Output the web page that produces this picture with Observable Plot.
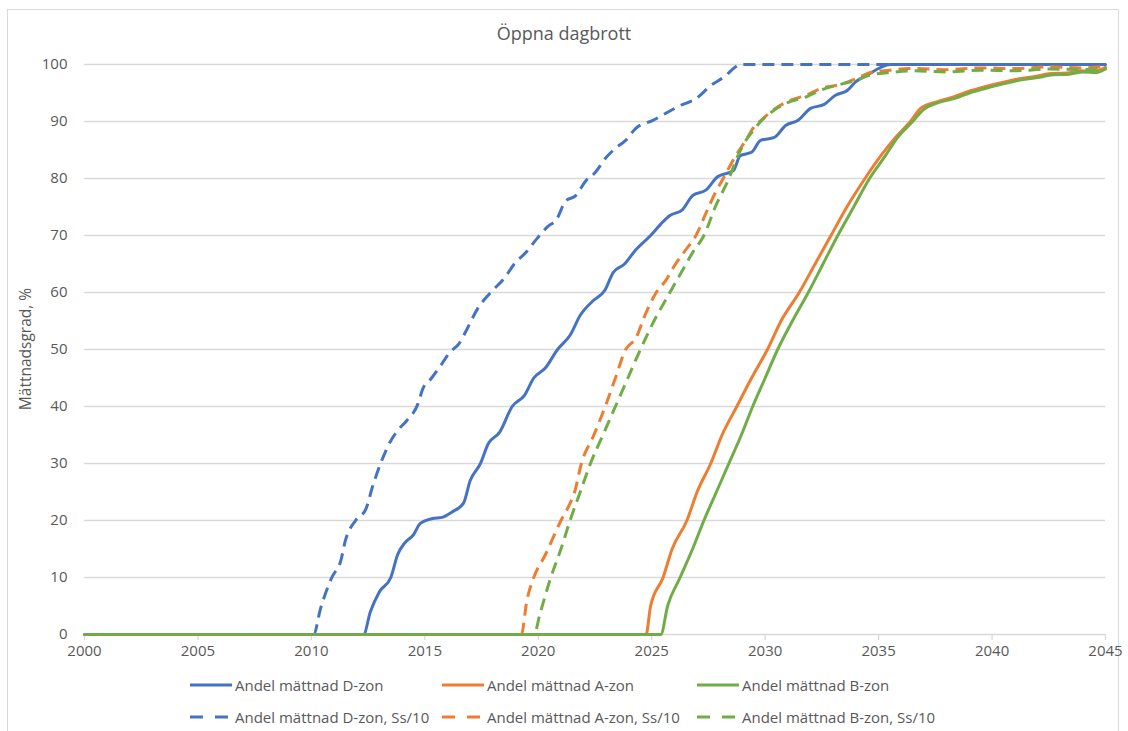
<!DOCTYPE html>
<html>
<head>
<meta charset="utf-8">
<script src="https://cdn.jsdelivr.net/npm/d3@7"></script>
<script src="https://cdn.jsdelivr.net/npm/@observablehq/plot@0.6"></script>
<style>
  html, body { margin: 0; padding: 0; background: #fff; }
  body { width: 1128px; height: 731px; position: relative; overflow: hidden; font-family: "Open Sans", "Liberation Sans", sans-serif; color: #595959; }
  #frame { position: absolute; left: 7px; top: 9px; width: 1112px; height: 740px; border: 1px solid #d9d9d9; box-sizing: border-box; }
  #title { position: absolute; left: 0; width: 1128px; top: 21px; text-align: center; font-size: 18px; color: #595959; }
  #chart { position: absolute; left: 0; top: 50px; }
  .leg { position: absolute; font-size: 15px; color: #595959; white-space: nowrap; display: flex; align-items: center; }
  .leg svg { margin-right: 2px; }
</style>
</head>
<body>
<div id="frame"></div>
<div id="title">Öppna dagbrott</div>
<div id="chart"></div>
<div id="legend"></div>
<script>
// ---- Data ----
const xTicks = [2000, 2005, 2010, 2015, 2020, 2025, 2030, 2035, 2040, 2045];
const yTicks = [0, 10, 20, 30, 40, 50, 60, 70, 80, 90, 100];

const seriesNames = [
  "Andel mättnad D-zon", "Andel mättnad A-zon", "Andel mättnad B-zon",
  "Andel mättnad D-zon, Ss/10", "Andel mättnad A-zon, Ss/10", "Andel mättnad B-zon, Ss/10"
];
const seriesColors = ["#4472C4", "#ED7D31", "#70AD47", "#4472C4", "#ED7D31", "#70AD47"];
const seriesDashed = [false, false, false, true, true, true];

const dYears = [2000, 2012.3, 2012.6, 2013.0, 2013.5, 2013.8, 2014.1, 2014.5, 2014.8, 2015.3, 2015.8, 2016.2, 2016.7, 2017.0, 2017.45, 2017.8, 2018.3, 2018.85, 2019.4, 2019.8, 2020.3, 2020.85, 2021.4, 2021.85, 2022.4, 2022.95, 2023.3, 2023.8, 2024.3, 2024.95, 2025.4, 2025.8, 2026.35, 2026.8, 2027.4, 2027.9, 2028.6, 2028.9, 2029.4, 2029.8, 2030.4, 2030.9, 2031.45, 2032.0, 2032.6, 2033.1, 2033.6, 2034.0, 2034.6, 2035.1, 2035.5, 2045];
const dVals  = [0, 0, 4, 7.5, 10, 14, 16, 17.5, 19.5, 20.3, 20.6, 21.5, 23, 27, 30, 33.5, 35.5, 40, 42, 45, 46.7, 50, 52.5, 56, 58.5, 60.5, 63.5, 65, 67.5, 70, 72, 73.5, 74.5, 77, 78, 80.3, 81.4, 84, 84.6, 86.7, 87.2, 89.3, 90.2, 92.3, 93, 94.6, 95.4, 97, 98.4, 99.5, 100, 100];

const aYears = [2000, 2024.75, 2024.95, 2025.5, 2025.9, 2026.55, 2027.0, 2027.6, 2028.1, 2028.75, 2029.4, 2030.1, 2030.7, 2031.5, 2032.2, 2032.9, 2033.6, 2034.4, 2035.1, 2035.7, 2036.4, 2036.85, 2037.6, 2038.3, 2038.9, 2039.6, 2040.4, 2041.2, 2041.9, 2042.6, 2043.3, 2043.9, 2044.5, 2045];
const aVals  = [0, 0, 5, 10, 15, 20, 25, 30, 35, 40, 45, 50, 55, 60, 65, 70, 75, 80, 84, 87, 90, 92.3, 93.5, 94.3, 95.2, 96, 96.8, 97.5, 97.9, 98.4, 98.5, 98.9, 98.8, 99.5];

const bYears = [2000, 2025.4, 2025.7, 2026.25, 2026.8, 2027.3, 2027.85, 2028.4, 2028.95, 2029.45, 2030.0, 2030.55, 2031.2, 2031.9, 2032.55, 2033.2, 2033.9, 2034.6, 2035.3, 2035.8, 2036.5, 2036.95, 2037.7, 2038.4, 2039.0, 2039.7, 2040.5, 2041.3, 2042.0, 2042.7, 2043.4, 2044.0, 2044.6, 2045];
const bVals  = [0, 0, 5, 10, 15, 20, 25, 30, 35, 40, 45, 50, 55, 60, 65, 70, 75, 80, 84, 87, 90, 92, 93.4, 94.1, 95, 95.8, 96.6, 97.3, 97.7, 98.2, 98.3, 98.7, 98.6, 99.2];

const dsYears = [2000, 2010.1, 2010.4, 2010.9, 2011.3, 2011.5, 2011.95, 2012.4, 2012.7, 2013.05, 2013.5, 2013.85, 2014.2, 2014.7, 2014.9, 2015.3, 2015.7, 2016.1, 2016.5, 2016.85, 2017.3, 2017.9, 2018.5, 2019.0, 2019.45, 2019.95, 2020.4, 2020.8, 2021.2, 2021.65, 2022.1, 2022.5, 2022.95, 2023.4, 2023.85, 2024.3, 2025.05, 2025.6, 2026.25, 2026.95, 2027.6, 2028.25, 2028.7, 2028.9, 2045];
const dsVals  = [0, 0, 4.5, 10, 13, 16.5, 20, 22, 26, 30, 34, 36, 37.5, 40.5, 43, 45, 47.2, 49.5, 51, 53.5, 57, 60, 62.5, 65.3, 67, 69.5, 71.5, 72.8, 76, 77, 79.6, 81, 83.5, 85.3, 86.7, 88.8, 90.2, 91.4, 92.8, 94, 96.3, 98, 99.6, 100, 100];

const asYears = [2000, 2019.25, 2019.5, 2019.8, 2020.3, 2021.0, 2021.4, 2021.6, 2021.9, 2022.45, 2022.95, 2023.4, 2023.85, 2024.3, 2024.7, 2025.2, 2025.6, 2026.05, 2026.5, 2026.95, 2027.4, 2027.8, 2028.15, 2028.7, 2029.15, 2029.5, 2029.9, 2030.45, 2031.1, 2031.8, 2032.45, 2033.3, 2034.0, 2034.65, 2035.5, 2036.5, 2038, 2039.5, 2041, 2042.5, 2044, 2045];
const asVals  = [0, 0, 6, 10, 13.9, 20, 23, 25, 30, 35, 40, 45, 50, 52, 56, 60, 62, 65, 67.5, 70, 74, 77.5, 80, 84, 86.7, 89, 90.5, 92.3, 93.7, 94.6, 95.8, 96.5, 97.5, 98.6, 99, 99.3, 99.1, 99.4, 99.3, 99.6, 99.4, 99.7];

const bsYears = [2000, 2019.8, 2020.1, 2020.55, 2021.0, 2021.4, 2021.85, 2022.3, 2022.85, 2023.4, 2023.95, 2024.5, 2025.1, 2025.8, 2026.3, 2026.8, 2027.3, 2027.8, 2028.4, 2028.8, 2029.15, 2029.5, 2029.8, 2030.4, 2031.1, 2031.8, 2032.45, 2033.3, 2034.0, 2034.65, 2035.5, 2036.5, 2038, 2039.5, 2041, 2042.5, 2044, 2045];
const bsVals  = [0, 0, 4, 10, 15, 20, 25, 30, 35, 40, 45, 50, 55, 60, 63.5, 67, 70, 75, 80, 84, 86.7, 88.5, 90, 92, 93.5, 94.3, 95.5, 96.5, 97.2, 98.2, 98.6, 98.9, 98.7, 99, 98.9, 99.2, 99.1, 99.4];

// ---- Build table ----
const seriesYears = [dYears, aYears, bYears, dsYears, asYears, bsYears];
const seriesVals  = [dVals, aVals, bVals, dsVals, asVals, bsVals];
const rows = [];
seriesNames.forEach((name, i) => {
  seriesYears[i].forEach((yr, j) => rows.push({series: name, year: yr, value: seriesVals[i][j]}));
});

const gridColor = "#d9d9d9";
const lineMarks = seriesNames.map((name, i) =>
  Plot.line(rows.filter(r => r.series === name), {
    x: "year", y: "value",
    stroke: seriesColors[i], strokeWidth: 3,
    strokeDasharray: seriesDashed[i] ? "12,7" : null,
    strokeLinejoin: "round", strokeLinecap: seriesDashed[i] ? "butt" : "round",
    curve: "monotone-x"
  })
);

const chart = Plot.plot({
  width: 1128, height: 620,
  marginLeft: 84, marginRight: 23, marginTop: 14, marginBottom: 36,
  style: {fontFamily: "'Open Sans', 'Liberation Sans', sans-serif", fontSize: "15px", color: "#595959", background: "transparent"},
  x: {domain: [2000, 2045], ticks: xTicks, tickFormat: d => String(d), label: null},
  y: {domain: [0, 100], ticks: yTicks, label: null},
  marks: [
    Plot.gridY(yTicks.filter(t => t > 0), {stroke: gridColor, strokeOpacity: 1, strokeWidth: 1.3}),
    Plot.ruleY([0], {stroke: gridColor, strokeWidth: 1.3}),
    Plot.axisX({ticks: xTicks, tickFormat: d => String(d), tickSize: 6, tickPadding: 5, stroke: gridColor, fill: "#595959", fontSize: 15, label: null}),
    Plot.axisY({ticks: yTicks, tickSize: 0, tickPadding: 17, fill: "#595959", fontSize: 15, label: null}),
    ...lineMarks
  ]
});
chart.querySelectorAll("[aria-label='x-axis tick'] path, [aria-label='x-axis tick'] line").forEach(el => { el.setAttribute("stroke", gridColor); el.setAttribute("stroke-width", "1.3"); });
document.getElementById("chart").appendChild(chart);

// y-axis title
d3.select(chart).append("text")
  .attr("transform", "translate(27,299) rotate(-90)")
  .attr("text-anchor", "middle")
  .attr("dominant-baseline", "middle")
  .attr("font-size", 15.5)
  .attr("fill", "#595959")
  .attr("font-family", "'Open Sans', 'Liberation Sans', sans-serif")
  .text("Mättnadsgrad, %");

// ---- Legend (HTML) ----
const legendX = [190, 442, 697];
const legendY = [675, 707];
const legend = document.getElementById("legend");
seriesNames.forEach((name, i) => {
  const row = seriesDashed[i] ? 1 : 0;
  const col = i % 3;
  const div = document.createElement("div");
  div.className = "leg";
  div.style.left = legendX[col] + "px";
  div.style.top = legendY[row] + "px";
  const sw = d3.create("svg").attr("width", 43).attr("height", 20);
  sw.append("line").attr("x1", 0).attr("x2", 42).attr("y1", 10).attr("y2", 10)
    .attr("stroke", seriesColors[i]).attr("stroke-width", 3)
    .attr("stroke-dasharray", seriesDashed[i] ? "13,12" : null);
  div.appendChild(sw.node());
  const t = document.createElement("span");
  t.textContent = name;
  div.appendChild(t);
  legend.appendChild(div);
});
</script>
</body>
</html>
